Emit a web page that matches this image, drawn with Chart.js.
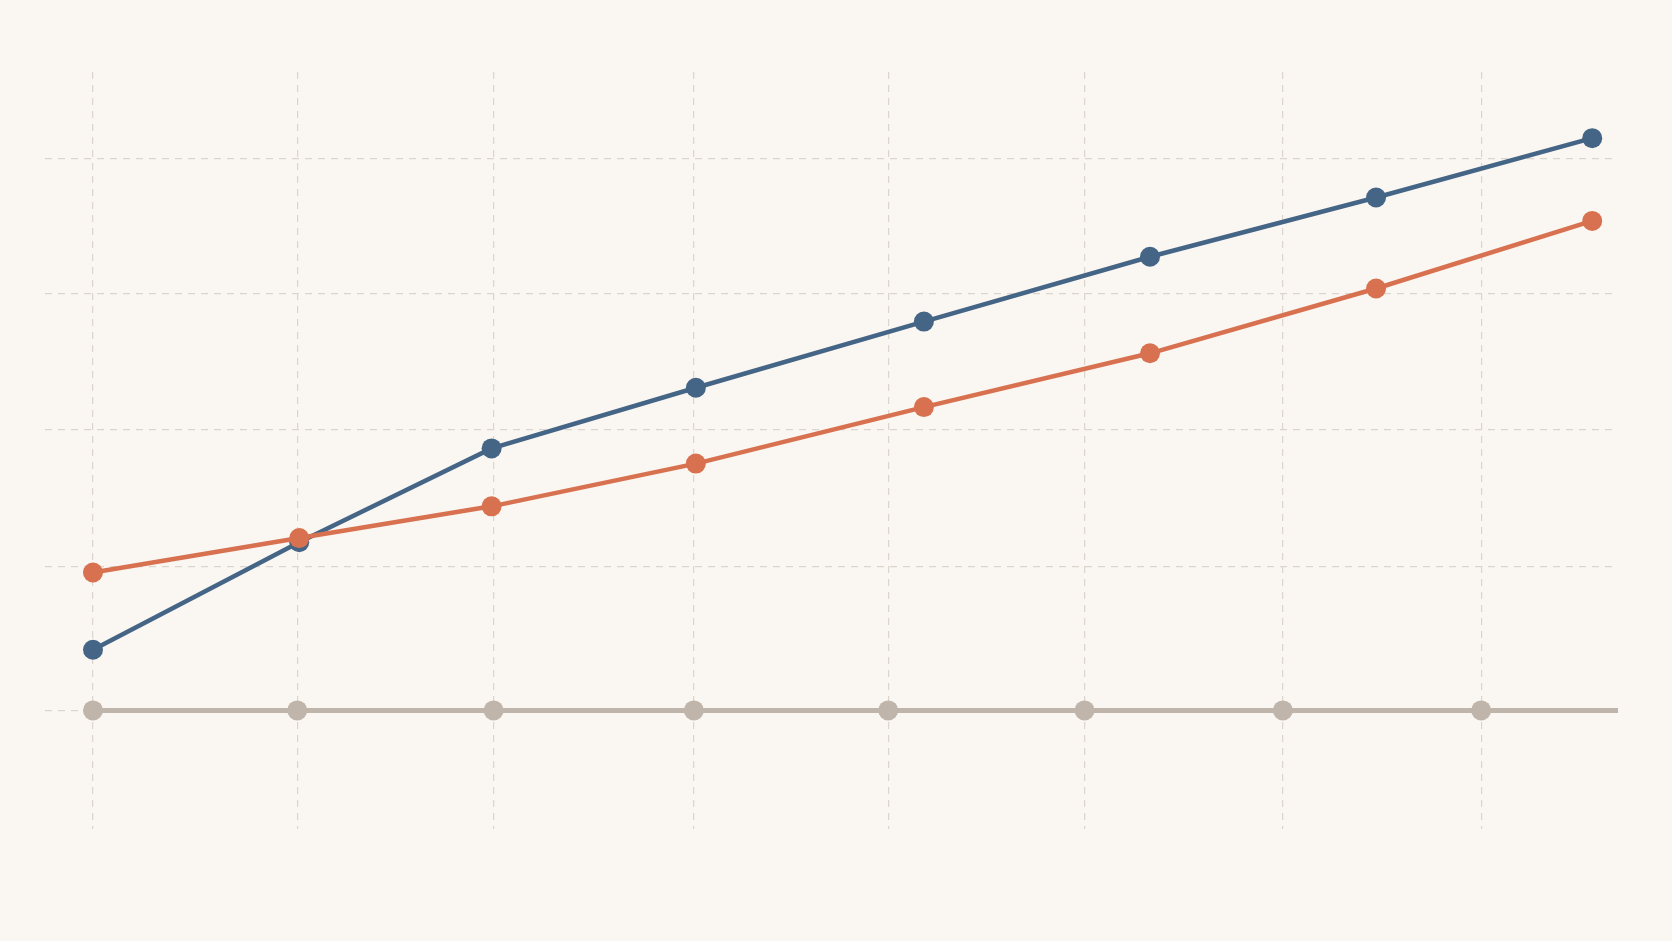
<!doctype html>
<html>
	<head>
		<meta charset="UTF-8" />
		<script src="https://cdn.jsdelivr.net/npm/chart.js"></script>
		<style type="text/css">
			html, body { margin: 0; padding: 0; background: #faf6f1; }
			.chartBox { width: 1672px; height: 941px; }
		</style>
	</head>
	<body>
		<div class="chartBox">
		<canvas id="lineChart"></canvas>
		</div>
		<script>
			// data block
			const xTicks = [0, 1.03, 2.02, 3.03, 4.01, 5.0, 6.0, 7.0];
			const yTicks = [0, 1.04, 2.035, 3.025, 4.0];
			const seriesX = [0, 1.04, 2.01, 3.04, 4.19, 5.33, 6.47, 7.56];
			const blueValues = [0.44, 1.22, 1.90, 2.34, 2.82, 3.29, 3.72, 4.15];
			const orangeValues = [1.00, 1.25, 1.48, 1.79, 2.20, 2.59, 3.06, 3.55];
			const baseX = [0, 1.03, 2.02, 3.03, 4.01, 5.0, 6.0, 7.0, 7.69];
			const baseValues = [0, 0, 0, 0, 0, 0, 0, 0, 0];

			const toPoints = (xs, ys) => xs.map((x, i) => ({ x: x, y: ys[i] }));

			const gridStyle = {
				color: '#dcd5cd',
				lineWidth: 1.2,
				tickLength: 0,
				drawTicks: false
			};

			const data = {
				datasets: [{
					label: 'Orange',
					data: toPoints(seriesX, orangeValues),
					borderColor: '#d8714f',
					backgroundColor: '#d8714f',
					borderWidth: 4.5,
					pointRadius: 10,
					pointHoverRadius: 10,
					pointBorderWidth: 0,
					order: 1
				}, {
					label: 'Blue',
					data: toPoints(seriesX, blueValues),
					borderColor: '#456586',
					backgroundColor: '#456586',
					borderWidth: 4.5,
					pointRadius: 10,
					pointHoverRadius: 10,
					pointBorderWidth: 0,
					order: 2
				}, {
					label: 'Base',
					data: toPoints(baseX, baseValues),
					borderColor: '#bfb5aa',
					backgroundColor: '#bfb5aa',
					borderWidth: 5,
					borderCapStyle: 'round',
					pointRadius: baseX.map((x, i) => i < baseX.length - 1 ? 10 : 0),
					pointBorderWidth: 0,
					order: 3
				}]
			};

			// config block
			const config = {
				type: 'line',
				data,
				options: {
					animation: false,
					responsive: true,
					maintainAspectRatio: false,
					layout: {
						padding: { left: 45, right: 54, top: 72, bottom: 112 }
					},
					plugins: {
						legend: { display: false },
						tooltip: { enabled: false }
					},
					scales: {
						x: {
							type: 'linear',
							min: -0.242,
							max: 7.69,
							afterBuildTicks: (scale) => { scale.ticks = xTicks.map(v => ({ value: v })); },
							ticks: { display: false, padding: 0 },
							border: { display: false, dash: [7, 6] },
							grid: gridStyle
						},
						y: {
							min: -0.86,
							max: 4.63,
							afterBuildTicks: (scale) => { scale.ticks = yTicks.map(v => ({ value: v })); },
							ticks: { display: false, padding: 0 },
							border: { display: false, dash: [7, 6] },
							grid: gridStyle
						}
					}
				}
			};

			// render init block
			const lineChart = new Chart(
				document.getElementById('lineChart'),
				config
			);
		</script>
	</body>
</html>
